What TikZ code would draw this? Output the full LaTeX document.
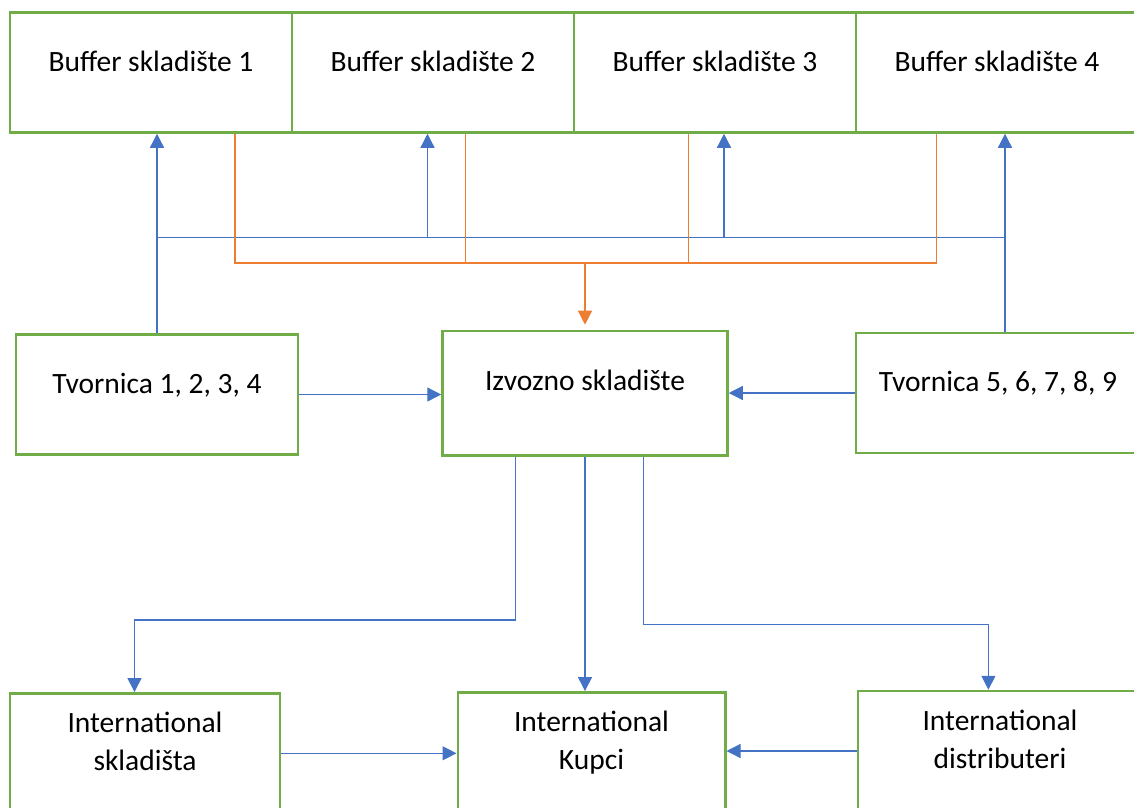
\documentclass[tikz,border=0pt]{standalone}
\usepackage{fontspec}
\setmainfont{Carlito}
\usetikzlibrary{arrows.meta}
\definecolor{boxgreen}{HTML}{70AD47}
\definecolor{flowblue}{HTML}{4472C4}
\definecolor{feedorange}{HTML}{ED7D31}
\tikzset{
  box/.style={draw=boxgreen, line width=2.5pt, inner sep=0pt, minimum width=282pt,
    minimum height=120pt, text height=58.5pt, text depth=61.5pt,
    font=\fontsize{29.5}{38.3}\selectfont},
  twoline/.style={align=center, text height=77.3pt, text depth=42.7pt},
  flow/.style={draw=flowblue, line width=1.3pt, -{Triangle[length=14pt,width=14pt]}},
  bus/.style={draw=flowblue, line width=1.3pt},
  feed/.style={draw=feedorange, line width=1.3pt},
}
\begin{document}
\begin{tikzpicture}[x=1pt, y=-1pt]
  \useasboundingbox (0,0) rectangle (1134,807);
  \clip (0,0) rectangle (1134,807);
  % Buffer boxes
  \node[box] (b1) at (151,72.5) {Buffer skladište 1};
  \node[box] (b2) at (433,72.5) {Buffer skladište 2};
  \node[box] (b3) at (715,72.5) {Buffer skladište 3};
  \node[box] (b4) at (997,72.5) {Buffer skladište 4};
  % Middle row
  \node[box] (t1) at (157,394.5) {Tvornica 1, 2, 3, 4};
  \node[box, minimum width=285pt, minimum height=124.5pt, text height=60pt, text depth=64.5pt]
    (iz) at (585,393.2) {Izvozno skladište};
  \node[box, minimum width=284pt] (t5) at (998,393) {Tvornica 5, 6, 7, 8, 9};
  % Bottom row
  \node[box, twoline, minimum width=270pt] (is) at (145,753.3) {International\\skladišta};
  \node[box, twoline, minimum width=267.5pt] (ku) at (591.5,752.3) {International\\Kupci};
  \node[box, twoline, minimum width=284pt] (di) at (1000,751) {International\\distributeri};
  % Junctions
  \coordinate (jr) at (1005,237.5);
  \coordinate (u2) at (427.5,237.5);
  \coordinate (u3) at (724,237.5);
  \coordinate (o1) at (235,263);
  \coordinate (o2) at (465.7,263);
  \coordinate (o3) at (688.8,263);
  \coordinate (o4) at (936.3,263);
  \coordinate (d1) at (515.5,620);
  \coordinate (k1) at (134.5,620);
  \coordinate (d3) at (643.5,624.7);
  \coordinate (k3) at (988.4,624.7);
  % Factories to buffers
  \draw[flow] (t1.north) -- (t1.north |- b1.south);
  \draw[flow] (jr |- t5.north) -- (jr |- b4.south);
  \draw[bus] (t1.north |- jr) -- (jr);
  \draw[flow] (u2) -- (u2 |- b2.south);
  \draw[flow] (u3) -- (u3 |- b3.south);
  % Buffers to export warehouse
  \draw[feed] (o1 |- b1.south) -- (o1) -- (o4) -- (o4 |- b4.south);
  \draw[feed] (o2 |- b2.south) -- (o2);
  \draw[feed] (o3 |- b3.south) -- (o3);
  \draw[feed, -{Triangle[length=14pt,width=14pt]}, shorten >=5pt] (iz.north |- o1) -- (iz.north);
  % Factories to export warehouse
  \draw[flow] (t1.east) -- (t1.east -| iz.west);
  \draw[flow] (t5.west) -- (t5.west -| iz.east);
  % Export warehouse to customers
  \draw[flow] (d1 |- iz.south) -- (d1) -- (k1) -- (k1 |- is.north);
  \draw[flow] (iz.south) -- (iz.south |- ku.north);
  \draw[flow] (d3 |- iz.south) -- (d3) -- (k3) -- (k3 |- di.north);
  \draw[flow] (is.east) -- (is.east -| ku.west);
  \draw[flow] (di.west) -- (di.west -| ku.east);
\end{tikzpicture}
\end{document}
